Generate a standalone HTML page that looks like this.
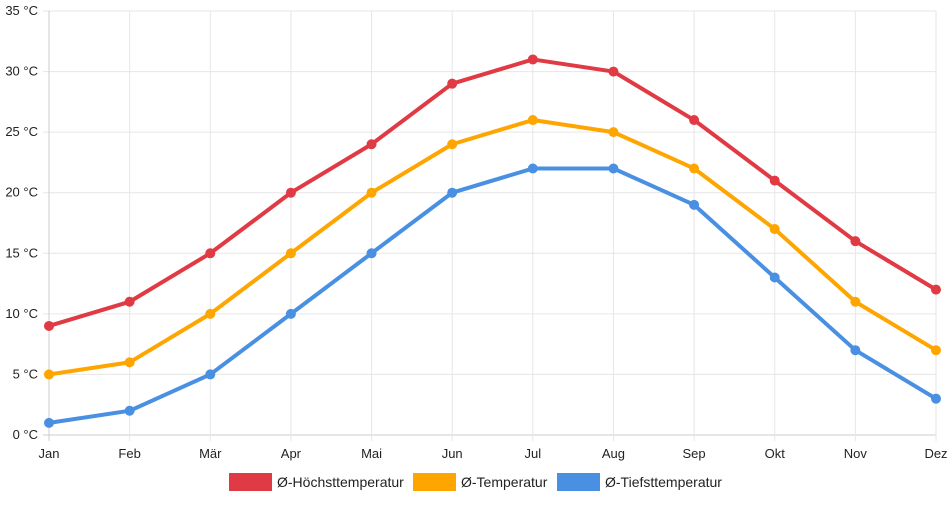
<!DOCTYPE html>
<html><head><meta charset="utf-8"><style>
body{margin:0;background:#fff;font-family:"Liberation Sans",sans-serif;}
svg text{font-family:"Liberation Sans",sans-serif;font-size:13px;fill:#222;}
</style></head><body>
<svg id="c" width="952" height="500"></svg>
<script>
const categories=["Jan","Feb","Mär","Apr","Mai","Jun","Jul","Aug","Sep","Okt","Nov","Dez"];
const highTemps=[9,11,15,20,24,29,31,30,26,21,16,12];
const avgTemps=[5,6,10,15,20,24,26,25,22,17,11,7];
const lowTemps=[1,2,5,10,15,20,22,22,19,13,7,3];
const yTicks=[0,5,10,15,20,25,30,35];
const seriesNames=["Ø-Höchsttemperatur","Ø-Temperatur","Ø-Tiefsttemperatur"];
const svg=document.getElementById('c');const NS="http://www.w3.org/2000/svg";
const x0=49,x1=936,y0=435,y1=11;
const xs=i=>x0+i*(x1-x0)/(categories.length-1);
const ys=v=>y0-(v-0)/35*(y0-y1);
function mk(t,a,p){const e=document.createElementNS(NS,t);for(const k in a)e.setAttribute(k,a[k]);(p||svg).appendChild(e);return e;}
const grid=mk('g',{});


yTicks.forEach(v=>{const y=ys(v);
 mk('line',{x1:x0-6,x2:x1,y1:y,y2:y,stroke:v===0?'#ccc':'#e6e6e6','stroke-width':1},grid);
 const t=mk('text',{x:38,y:y+4,'text-anchor':'end'});t.textContent=v+' °C';
 
 });
categories.forEach((c,i)=>{const x=xs(i);
 mk('line',{x1:x,x2:x,y1:y1,y2:y0+6,stroke:i===0?'#ccc':'#e6e6e6','stroke-width':1},grid);
 const t=mk('text',{x:x,y:458,'text-anchor':'middle'});t.textContent=c;
 
 });
const series=[[highTemps,'#e03a45','high-temp-series'],[avgTemps,'#ffa500','avg-temp-series'],[lowTemps,'#4a90e2','low-temp-series']];
series.forEach(([d,col,n])=>{const g=mk('g',{});
 
 
 mk('polyline',{points:d.map((v,i)=>xs(i)+','+ys(v)).join(' '),fill:'none',stroke:col,'stroke-width':4,'stroke-linejoin':'round'},g);
 d.forEach((v,i)=>{const p=mk('circle',{cx:xs(i),cy:ys(v),r:5,fill:col},g);
  
  });});
const lg=mk('g',{});


const lx=[229,413,557];const cols=['#e03a45','#ffa500','#4a90e2'];
seriesNames.forEach((s,i)=>{const e=mk('g',{},lg);
 
 
 mk('rect',{x:lx[i],y:473,width:43,height:18,fill:cols[i]},e);
 const t=mk('text',{x:lx[i]+48,y:487,style:'font-size:14px'},e);t.textContent=s;});
</script>
</body></html>
